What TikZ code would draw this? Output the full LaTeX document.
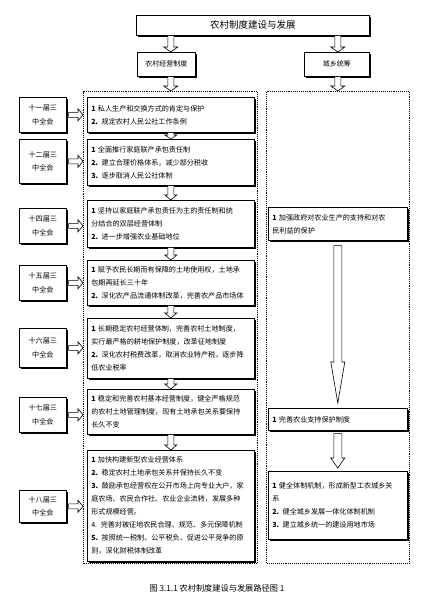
\documentclass[tikz,border=0pt]{standalone}
\usepackage{fontspec}
\setmainfont{Noto Sans CJK SC}
\usetikzlibrary{shadows,calc}
\tikzset{
  boxshadow/.style={drop shadow={shadow xshift=1.2pt,shadow yshift=-1.2pt,fill=black,opacity=1}},
  headbox/.style={draw,line width=0.6pt,fill=white,boxshadow,inner sep=0pt,font=\fontsize{7}{9}\selectfont},
  sessbox/.style={draw,line width=0.6pt,fill=white,boxshadow,inner sep=0pt,align=center,
    minimum width=47pt,font=\fontsize{7.1}{13.5}\selectfont},
  contbox/.style={draw,line width=0.6pt,fill=white,boxshadow,inner xsep=4pt,inner ysep=0pt,
    text width=159pt,align=left,font=\fontsize{7.1}{13}\selectfont},
  rcontbox/.style={contbox,text width=131pt},
  container/.style={draw,densely dotted,line width=1.1pt,inner sep=0pt},
  blockarrow/.style={draw,line width=0.6pt,fill=white,line join=miter},
}
\newcommand\vArrow[5]{%
  \draw[blockarrow] let \p1=#1, \p2=#2 in
    (\x2-#3pt,\y1) -- (\x2+#3pt,\y1) -- (\x2+#3pt,\y2+#5pt) -- (\x2+#4pt,\y2+#5pt)
    -- (\x2,\y2) -- (\x2-#4pt,\y2+#5pt) -- (\x2-#3pt,\y2+#5pt) -- cycle;}
\newcommand\hArrow[5]{%
  \draw[blockarrow] let \p1=#1, \p2=#2 in
    (\x1,\y1+#3pt) -- (\x2-#5pt,\y1+#3pt) -- (\x2-#5pt,\y1+#4pt) -- (\x2,\y1)
    -- (\x2-#5pt,\y1-#4pt) -- (\x2-#5pt,\y1-#3pt) -- (\x1,\y1-#3pt) -- cycle;}
\begin{document}
\begin{tikzpicture}[x=1pt,y=-1pt]
\useasboundingbox[fill=white] (0,0) rectangle (428,598);

% containers
\node[container,anchor=north west,minimum width=174pt,minimum height=472pt] (lc) at (83,91) {};
\node[container,anchor=north west,minimum width=143pt,minimum height=472pt] (rc) at (266,91) {};

% heads
\node[headbox,anchor=north west,minimum width=233pt,minimum height=20pt,font=\fontsize{9.5}{11}\selectfont] (title) at (136,15) {农村制度建设与发展};
\node[headbox,anchor=north west,minimum width=58pt,minimum height=24pt] (lbox) at (137,52) {农村经营制度};
\node[headbox,anchor=north west,minimum width=65pt,minimum height=24pt] (rbox) at (304,52) {城乡统筹};

% session boxes
\node[sessbox,anchor=north west,minimum height=35pt] (s1) at (19,97) {十一届三\\中全会};
\node[sessbox,anchor=north west,minimum height=44pt] (s2) at (19,139) {十二届三\\中全会};
\node[sessbox,anchor=north west,minimum height=35pt] (s3) at (19,208) {十四届三\\中全会};
\node[sessbox,anchor=north west,minimum height=35pt] (s4) at (19,265) {十五届三\\中全会};
\node[sessbox,anchor=north west,minimum height=39pt] (s5) at (19,328) {十六届三\\中全会};
\node[sessbox,anchor=north west,minimum height=35pt] (s6) at (19,397) {十七届三\\中全会};
\node[sessbox,anchor=north west,minimum height=32pt] (s7) at (19,490) {十八届三\\中全会};

% left content boxes
\node[contbox,anchor=north west,minimum height=35pt] (c1) at (87,97)
 {\textbf{1} 私人生产和交换方式的肯定与保护\\\textbf{2.} 规定农村人民公社工作条例};
\node[contbox,anchor=north west,minimum height=46pt] (c2) at (87,139)
 {\textbf{1} 全面推行家庭联产承包责任制\\\textbf{2.} 建立合理价格体系，减少部分税收\\\textbf{3.} 逐步取消人民公社体制};
\node[contbox,anchor=north west,minimum height=47pt] (c3) at (87,200)
 {\textbf{1} 坚持以家庭联产承包责任为主的责任制和统\\分结合的双层经营体制\\\textbf{2.} 进一步增强农业基础地位};
\node[contbox,anchor=north west,minimum height=45pt] (c4) at (87,260)
 {\textbf{1} 赋予农民长期而有保障的土地使用权，土地承\\包期再延长三十年\\\textbf{2.} 深化农产品流通体制改革，完善农产品市场体};
\node[contbox,anchor=north west,minimum height=60pt] (c5) at (87,318)
 {\textbf{1} 长期稳定农村经营体制，完善农村土地制度，\\实行最严格的耕地保护制度，改革征地制度\\\textbf{2.} 深化农村税费改革，取消农业特产税，逐步降\\低农业税率};
\node[contbox,anchor=north west,minimum height=45pt] (c6) at (87,389)
 {\textbf{1} 稳定和完善农村基本经营制度，健全严格规范\\的农村土地管理制度，现有土地承包关系要保持\\长久不变};
\node[contbox,anchor=north west,minimum height=111pt] (c7) at (87,450)
 {\textbf{1} 加快构建新型农业经营体系\\\textbf{2.} 稳定农村土地承包关系并保持长久不变\\\textbf{3.} 鼓励承包经营权在公开市场上向专业大户，家\\庭农场、农民合作社、农业企业流转，发展多种\\形式规模经营。\\4. 完善对被征地农民合理、规范、多元保障机制\\\textbf{5.} 按照统一税制、公平税负、促进公平竞争的原\\则，深化财税体制改革};

% right content boxes
\node[rcontbox,anchor=north west,minimum height=33pt] (r1) at (268,207)
 {\textbf{1} 加强政府对农业生产的支持和对农\\民利益的保护};
\node[rcontbox,anchor=north west,minimum height=22pt] (r2) at (268,408)
 {\textbf{1} 完善农业支持保护制度};
\node[rcontbox,anchor=north west,minimum height=68pt] (r3) at (268,471)
 {\textbf{1} 健全体制机制，形成新型工农城乡关\\系\\\textbf{2.} 健全城乡发展一体化体制机制\\\textbf{3.} 建立城乡统一的建设用地市场};

% vertical block arrows
\vArrow{(title.south -| c1.north)}{(lbox.north -| c1.north)}{3}{7}{5}
\vArrow{(lbox.south -| c1.north)}{(lc.north -| c1.north)}{3}{7}{5}
\vArrow{(title.south -| r1.north)}{(rbox.north -| r1.north)}{3}{7}{5}
\vArrow{(rbox.south -| r1.north)}{(rc.north -| r1.north)}{3}{7}{5}
\vArrow{(c1.south)}{(c2.north)}{3}{6}{4}
\vArrow{(c2.south)}{(c3.north)}{3}{6}{5}
\vArrow{(c3.south)}{(c4.north)}{3}{6}{5}
\vArrow{(c4.south)}{(c5.north)}{3}{6}{5}
\vArrow{(c5.south)}{(c6.north)}{3}{6}{5}
\vArrow{(c6.south)}{(c7.north)}{3}{6}{5}
\vArrow{([yshift=-5pt]r1.south)}{([yshift=5pt]r2.north)}{4}{7}{41}
\vArrow{([yshift=-3pt]r2.south)}{([yshift=3pt]r3.north)}{4}{7}{10}

% horizontal block arrows
\hArrow{([xshift=2pt]s1.east)}{(lc.west |- s1.east)}{2.5}{6}{5}
\hArrow{([xshift=2pt]s2.east)}{(lc.west |- s2.east)}{2.5}{6}{5}
\hArrow{([xshift=2pt]s3.east)}{(lc.west |- s3.east)}{2.5}{6}{5}
\hArrow{([xshift=2pt]s4.east)}{(lc.west |- s4.east)}{2.5}{6}{5}
\hArrow{([xshift=2pt]s5.east)}{(lc.west |- s5.east)}{2.5}{6}{5}
\hArrow{([xshift=2pt]s6.east)}{(lc.west |- s6.east)}{2.5}{6}{5}
\hArrow{([xshift=2pt]s7.east)}{(lc.west |- s7.east)}{2.5}{6}{5}

% caption
\node[font=\fontsize{8.2}{10}\selectfont] (cap) at (217,588) {图 3.1.1 农村制度建设与发展路径图 1};
\end{tikzpicture}
\end{document}
